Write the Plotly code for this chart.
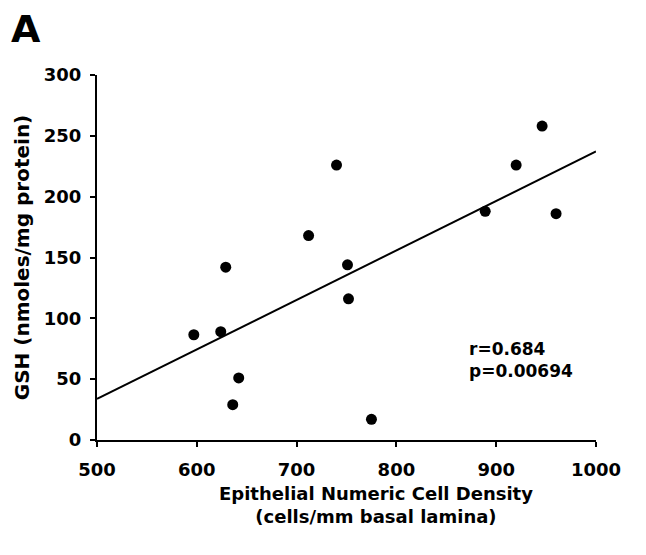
import numpy as np
import plotly.graph_objects as go

# Data
cell_density = [597, 624, 629, 642, 636, 712, 751, 752, 775, 740, 946, 920, 889, 960]
gsh = [86.5, 89, 142, 51, 29, 168, 144, 116, 17, 226, 258, 226, 188, 186]
x_ticks = [500, 600, 700, 800, 900, 1000]
y_ticks = [0, 50, 100, 150, 200, 250, 300]
stats_text = ["r=0.684", "p=0.00694"]
x_title = ["Epithelial Numeric Cell Density", "(cells/mm basal lamina)"]
y_title = "GSH (nmoles/mg protein)"

slope, intercept = np.polyfit(cell_density, gsh, 1)
fit_x = [500, 1000]
fit_y = [slope * v + intercept for v in fit_x]

FONT = "DejaVu Sans, Liberation Sans, Arial, sans-serif"

fig = go.Figure()
fig.add_trace(go.Scatter(x=fit_x, y=fit_y, mode="lines",
                         line=dict(color="black", width=2), hoverinfo="skip"))
fig.add_trace(go.Scatter(x=cell_density, y=gsh, mode="markers",
                         marker=dict(color="black", size=11)))

fig.update_layout(
    width=646, height=555,
    margin=dict(l=89, r=58, t=67, b=123),
    paper_bgcolor="white", plot_bgcolor="white",
    showlegend=False,
    font=dict(family=FONT, size=18, color="black", weight="bold"),
)
fig.update_xaxes(
    range=[500, 1000], tickvals=x_ticks, ticktext=[str(v) for v in x_ticks],
    showline=True, linecolor="black", linewidth=2, mirror=False,
    ticks="outside", ticklen=5, tickwidth=2, tickcolor="black",
    showgrid=False, zeroline=False, ticklabelstandoff=7,
    tickfont=dict(size=18, weight="bold"),
)
fig.update_yaxes(
    range=[0, 300], tickvals=y_ticks,
    showline=True, linecolor="black", linewidth=2, mirror=False,
    ticks="outside", ticklen=5, tickwidth=2, tickcolor="black",
    showgrid=False, zeroline=False, ticklabelstandoff=5,
    tickfont=dict(size=18, weight="bold"),
    title=dict(text=y_title, font=dict(size=20, weight="bold"), standoff=9),
)
# x-axis title (placed slightly right of centre, as in the original)
fig.add_annotation(x=0.56, y=-0.113, xref="paper", yref="paper", xanchor="center", yanchor="top",
                   text="<br>".join(x_title), showarrow=False, align="center",
                   font=dict(size=18, weight="bold"))
fig.add_annotation(x=871, y=66, xref="x", yref="y", xanchor="left", yanchor="middle",
                   text="<br>".join(stats_text), showarrow=False, align="left",
                   font=dict(size=17, weight="bold"))
fig.add_annotation(x=-0.1765, y=1.192, xref="paper", yref="paper", xanchor="left", yanchor="top",
                   text="A", showarrow=False, font=dict(size=38, weight="bold"))

fig.write_html("out.html")
